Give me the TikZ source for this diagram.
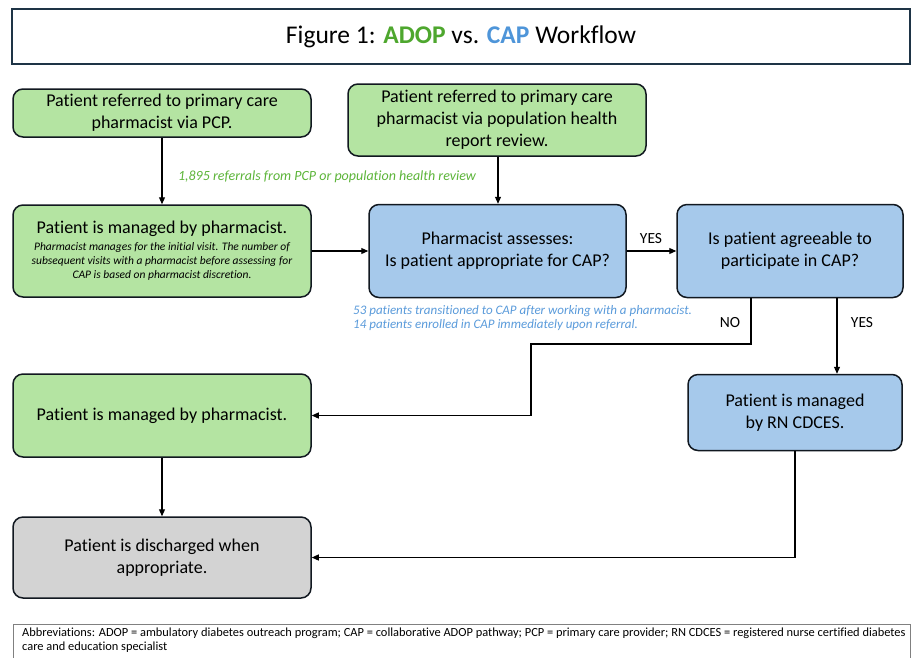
\documentclass[tikz,border=0pt]{standalone}
\usepackage{fontspec}
\setmainfont{Carlito}[Ligatures=CommonOff]
\usetikzlibrary{arrows.meta}
\definecolor{gfill}{HTML}{B4E4A2}
\definecolor{bfill}{HTML}{A6C9EB}
\definecolor{hfill}{HTML}{D3D3D3}
\definecolor{edge}{HTML}{111820}
\definecolor{tedge}{HTML}{1E3446}
\definecolor{adopg}{HTML}{4EA72E}
\definecolor{capb}{HTML}{4E95D9}
\definecolor{lgreen}{HTML}{5DB53A}
\definecolor{lblue}{HTML}{5A9BDB}
\definecolor{abox}{HTML}{808080}
\begin{document}
\begin{tikzpicture}[x=1pt,y=-1pt,
  flowbox/.style={draw=edge, line width=1.5pt, rounded corners=10pt, align=center, inner sep=0pt,
    font=\fontsize{18}{22}\selectfont},
  gbox/.style={flowbox, fill=gfill},
  bbox/.style={flowbox, fill=bfill},
  hbox/.style={flowbox, fill=hfill},
  arr/.style={draw=black, line width=1.1pt, -{Triangle[length=7pt,width=6pt]}},
  lab/.style={font=\fontsize{15.5}{18}\selectfont, inner sep=0pt}]
\useasboundingbox (0,0) rectangle (912,657);
\fill[white] (0,0) rectangle (912,657);

% title
\node[draw=tedge, line width=1.6pt, minimum width=898pt, minimum height=55pt, inner sep=0pt,
  font=\fontsize{25.5}{28}\selectfont] (title) at (461,36.5)
  {Figure 1: {\color{adopg}\bfseries ADOP} vs. {\color{capb}\bfseries CAP} Workflow};

% boxes
\node[gbox, minimum width=298pt, minimum height=48pt] (A) at (162,113)
  {Patient referred to primary care\\pharmacist via PCP.};
\node[gbox, minimum width=298pt, minimum height=72pt] (B) at (497,120)
  {Patient referred to primary care\\pharmacist via population health\\report review.};
\node[gbox, minimum width=298pt, minimum height=92pt] (C) at (162,251)
  {{\fontsize{18}{20}\selectfont Patient is managed by pharmacist.}\\[-5pt]
   {\fontsize{11.5}{14}\selectfont\itshape Pharmacist manages for the initial visit. The number of}\\[-8pt]
   {\fontsize{11.5}{14}\selectfont\itshape subsequent visits with a pharmacist before assessing for}\\[-8pt]
   {\fontsize{11.5}{14}\selectfont\itshape CAP is based on pharmacist discretion.}};
\node[bbox, minimum width=257pt, minimum height=93pt] (D) at (497.5,251)
  {Pharmacist assesses:\\Is patient appropriate for CAP?};
\node[bbox, minimum width=226pt, minimum height=93pt] (E) at (790,251)
  {Is patient agreeable to\\participate in CAP?};
\node[gbox, minimum width=298pt, minimum height=83pt] (F) at (162,415.5)
  {Patient is managed by pharmacist.};
\node[bbox, minimum width=214pt, minimum height=76pt] (G) at (795,412.5)
  {Patient is managed\\by RN CDCES.};
\node[hbox, minimum width=298pt, minimum height=81pt] (H) at (162,557.5)
  {Patient is discharged when\\appropriate.};

% labels
\node[font=\fontsize{14}{16}\selectfont\itshape, text=lgreen, inner sep=0pt] (lg) at (327,177)
  {1,895 referrals from PCP or population health review};
\node[font=\fontsize{13}{14.5}\selectfont\itshape, text=lblue, inner sep=0pt, align=left, anchor=north west] (lb) at (353,305)
  {53 patients transitioned to CAP after working with a pharmacist.\\14 patients enrolled in CAP immediately upon referral.};
\node[lab] (yes1) at (651,239) {YES};
\node[lab] (no) at (730,323) {NO};
\node[lab] (yes2) at (862,323) {YES};

% connector coordinates
\coordinate (yx) at (837,0);
\coordinate (n1) at (751,344);
\coordinate (n2) at (531,344);

% connectors
\draw[arr] (A.south) -- (C.north);
\draw[arr] (B.south -| 498,0) -- (D.north -| 498,0);
\draw[arr] (C.east) -- (D.west);
\draw[arr] (D.east) -- (E.west);
\draw[arr] (E.south -| yx) -- (G.north -| yx);
\draw[arr] (E.south -| n1) -- (n1) -- (n2) |- (F.east);
\draw[arr] (F.south) -- (H.north);
\draw[arr] (G.south) |- (H.east);

% abbreviations
\draw[abox, line width=0.8pt] (13,660) -- (13,624) -- (910,624) -- (910,660);
\node[font=\fontsize{12.4}{14}\selectfont, inner sep=0pt, align=left, anchor=north west] (abbr) at (22,628)
  {Abbreviations: ADOP = ambulatory diabetes outreach program; CAP = collaborative ADOP pathway; PCP = primary care provider; RN CDCES = registered nurse certified diabetes\\care and education specialist};
\end{tikzpicture}
\end{document}
